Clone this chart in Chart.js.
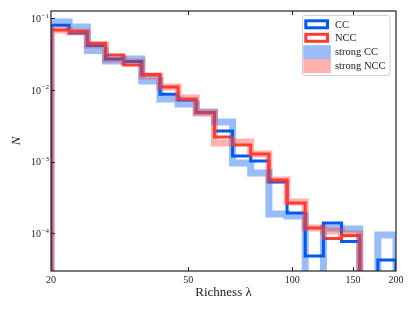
<!DOCTYPE html>
<html>
<head>
<meta charset="utf-8">
<script src="https://cdn.jsdelivr.net/npm/chart.js@4.4.1/dist/chart.umd.min.js"></script>
<style>
  html, body { margin: 0; padding: 0; background: #fff; }
  canvas { display: block; }
</style>
</head>
<body>
<canvas id="richChart" width="415" height="312"></canvas>
<script>
// log-spaced bins, 20 -> 200
const binEdges = [20, 22.58, 25.49, 28.77, 32.48, 36.66, 41.38, 46.71, 52.73, 59.53,
                  67.2, 75.85, 85.63, 96.66, 109.1, 123.2, 139.0, 157.0, 177.2, 200];

const ccValues = [0.0799, 0.0624, 0.0417, 0.0270, 0.0250, 0.0162, 0.0087, 0.00725, 0.00485, 0.00268,
                  0.00120, 0.00102, 0.00052, 0.000192, 0.0000482, 0.000139, 0.0000769, 0, 0.0000424];
const nccValues = [0.0687, 0.0654, 0.0448, 0.0308, 0.0223, 0.01644, 0.0110, 0.00748, 0.00485, 0.00221,
                   0.00171, 0.00128, 0.000554, 0.000265, 0.000119, 0.0000845, 0.000093, 0, 0];
const strongCcValues = [0.0888, 0.0756, 0.0355, 0.0254, 0.0270, 0.01334, 0.00748, 0.00637, 0.00493, 0.00357,
                        0.000957, 0.000694, 0.000186, 0.000174, 0, 0.000119, 0.000115, 0, 0.0000947];
const strongNccValues = [0.0687, 0.0644, 0.0424, 0.0270, 0.0246, 0.01566, 0.0110, 0.00773, 0.00477, 0.00182,
                         0.00188, 0.00128, 0.000554, 0.000273, 0.000119, 0.000108, 0.0000978, 0, 0];

const seriesNames = ['CC', 'NCC', 'strong CC', 'strong NCC'];
const xTicks = [20, 50, 100, 150, 200];
const yTicks = [1e-4, 1e-3, 1e-2, 1e-1];
const yTickExponents = ['−4', '−3', '−2', '−1'];

const BLUE = 'rgb(0,90,235)';
const RED = 'rgb(255,60,50)';
const BLUE_A = 'rgba(0,90,235,0.4)';
const RED_A = 'rgba(255,60,50,0.4)';
const SERIF = '"Liberation Serif", "DejaVu Serif", serif';

// step outline like histtype='step'; empty bins drop off the bottom
function stepPoints(values) {
    const floor = 1e-8;
    const pts = [{x: binEdges[0], y: floor}];
    values.forEach((v, i) => pts.push({x: binEdges[i], y: v > 0 ? v : floor}));
    pts.push({x: binEdges[binEdges.length - 1], y: floor});
    return pts;
}

function stepSet(label, values, color, width, order) {
    return {
        label, data: stepPoints(values),
        borderColor: color, borderWidth: width,
        stepped: true, fill: false, pointRadius: 0,
        borderJoinStyle: 'miter', borderCapStyle: 'butt',
        clip: 0, order
    };
}

const framePlugin = {
    id: 'frame',
    afterDatasetsDraw(chart) {
        const {ctx, chartArea: a, scales} = chart;
        ctx.save();
        ctx.strokeStyle = '#222';
        ctx.lineWidth = 1.2;
        ctx.strokeRect(a.left, a.top, a.right - a.left, a.bottom - a.top);
        ctx.lineWidth = 1;
        ctx.beginPath();
        xTicks.slice(1, -1).forEach(v => {
            const px = Math.round(scales.x.getPixelForValue(v)) + 0.5;
            ctx.moveTo(px, a.bottom); ctx.lineTo(px, a.bottom - 4);
            ctx.moveTo(px, a.top); ctx.lineTo(px, a.top + 4);
        });
        yTicks.forEach(v => {
            const py = Math.round(scales.y.getPixelForValue(v)) + 0.5;
            ctx.moveTo(a.left, py); ctx.lineTo(a.left + 4, py);
        });
        ctx.stroke();

        // y tick labels as 10 with a raised exponent
        ctx.fillStyle = '#222';
        ctx.textBaseline = 'middle';
        ctx.textAlign = 'left';
        yTicks.forEach((v, i) => {
            const py = scales.y.getPixelForValue(v);
            const exp = yTickExponents[i];
            ctx.font = '7px ' + SERIF;
            const ew = ctx.measureText(exp).width;
            ctx.font = '10px ' + SERIF;
            const bw = ctx.measureText('10').width;
            const right = a.left - 2;
            ctx.fillText('10', right - ew - bw - 0.5, py + 1);
            ctx.font = '7px ' + SERIF;
            ctx.fillText(exp, right - ew, py - 2.5);
        });
        ctx.restore();
    }
};

const legendPlugin = {
    id: 'boxLegend',
    afterDraw(chart) {
        const ctx = chart.ctx;
        const bx = 302.5, by = 15.5, bw = 87.5, bh = 60;
        ctx.save();
        ctx.fillStyle = 'rgba(255,255,255,0.9)';
        ctx.strokeStyle = '#d0d0d0';
        ctx.lineWidth = 1;
        ctx.beginPath();
        ctx.roundRect(bx, by, bw, bh, 2);
        ctx.fill();
        ctx.stroke();

        const rows = [24.3, 37.8, 52.2, 66.0];
        // outlined patches
        ctx.lineWidth = 3;
        ctx.strokeStyle = BLUE;
        ctx.strokeRect(305.8, rows[0] - 3.5, 21.7, 7);
        ctx.strokeStyle = RED;
        ctx.strokeRect(305.8, rows[1] - 3.5, 21.7, 7);
        // thick translucent patches
        ctx.fillStyle = BLUE_A;
        ctx.fillRect(303.3, rows[2] - 7, 27.5, 14);
        ctx.fillStyle = RED_A;
        ctx.fillRect(303.3, rows[3] - 7, 27.5, 14);

        ctx.fillStyle = '#222';
        ctx.font = '10.5px ' + SERIF;
        ctx.textBaseline = 'middle';
        seriesNames.forEach((n, i) => ctx.fillText(n, 335, rows[i] + 0.5));
        ctx.restore();
    }
};

new Chart(document.getElementById('richChart'), {
    type: 'line',
    data: {
        datasets: [
            stepSet(seriesNames[0], ccValues, BLUE, 3, 4),
            stepSet(seriesNames[1], nccValues, RED, 3, 3),
            stepSet(seriesNames[2], strongCcValues, BLUE_A, 7, 2),
            stepSet(seriesNames[3], strongNccValues, RED_A, 7, 1)
        ]
    },
    options: {
        responsive: false,
        animation: false,
        layout: { padding: { top: 11, right: 19, left: 0, bottom: 0 } },
        plugins: { legend: { display: false }, tooltip: { enabled: false } },
        scales: {
            x: {
                type: 'logarithmic', min: 20, max: 200,
                grid: { display: false, drawTicks: false },
                border: { display: false },
                afterBuildTicks: s => { s.ticks = xTicks.map(v => ({value: v})); },
                afterFit: s => { s.height = 41; },
                ticks: {
                    autoSkip: false, maxRotation: 0, padding: 3, color: '#222',
                    font: { family: SERIF, size: 10 },
                    callback: v => String(v)
                },
                title: {
                    display: true, text: 'Richness λ', color: '#222',
                    font: { family: SERIF, size: 13 },
                    padding: { top: 0, bottom: 12 }
                }
            },
            y: {
                type: 'logarithmic', min: 2.98e-5, max: 0.1265,
                grid: { display: false, drawTicks: false },
                border: { display: false },
                afterBuildTicks: s => { s.ticks = yTicks.map(v => ({value: v})); },
                afterFit: s => { s.width = 51; },
                ticks: { display: false },
                title: {
                    display: true, text: 'N', color: '#222',
                    font: { family: SERIF, size: 13, style: 'italic' },
                    padding: { top: 9, bottom: 0 }
                }
            }
        }
    },
    plugins: [framePlugin, legendPlugin]
});
</script>
</body>
</html>
